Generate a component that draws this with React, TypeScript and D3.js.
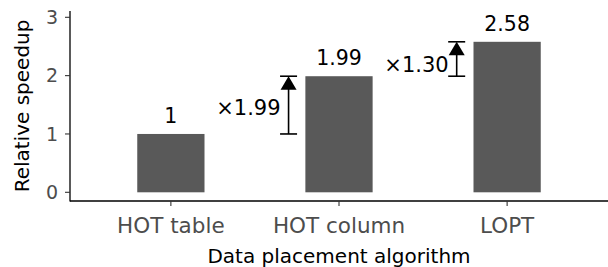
import React, { useEffect, useRef } from 'react';
import * as d3 from 'd3';

const categories = ['HOT table', 'HOT column', 'LOPT'];
const speedups = [1, 1.99, 2.58];
const barLabels = ['1', '1.99', '2.58'];
const yTicks = [0, 1, 2, 3];

// speedup arrows between neighbouring bars
const arrowFrom = [1, 1.99];
const arrowTo = [1.99, 2.58];
const arrowAt = ['HOT column', 'LOPT'];
const arrowLabels = ['×1.99', '×1.30'];
const arrowLabelY = [1.46, 2.19];

const W = 608;
const H = 267;
const FONT = '"DejaVu Sans", sans-serif';

export default function App() {
  const ref = useRef<SVGSVGElement>(null);

  useEffect(() => {
    const svg = d3.select(ref.current);
    svg.selectAll('*').remove();

    const left = 70;
    const right = 608;
    const x = d3.scaleBand().domain(categories).range([left, right]).paddingInner(0.6).paddingOuter(0.4);
    const y = d3.scaleLinear().domain([0, 3]).range([192.3, 17.3]);
    const yBottom = 201;
    const yTop = y(3.11);

    const bw = x.bandwidth();
    const step = x.step();
    const cx = (c: string) => (x(c) as number) + bw / 2;

    // bars
    svg.selectAll('.bar')
      .data(speedups)
      .enter()
      .append('rect')
      .attr('class', 'bar')
      .attr('x', (d, i) => x(categories[i]) as number)
      .attr('y', (d) => y(d))
      .attr('width', bw)
      .attr('height', (d) => y(0) - y(d))
      .attr('fill', '#595959');

    // bar labels
    svg.selectAll('.blabel')
      .data(speedups)
      .enter()
      .append('text')
      .attr('x', (d, i) => cx(categories[i]))
      .attr('y', (d) => y(d) - 11)
      .attr('text-anchor', 'middle')
      .attr('font-family', FONT)
      .attr('font-size', 20.5)
      .attr('fill', '#000')
      .text((d, i) => barLabels[i]);

    // arrows
    arrowFrom.forEach((from, i) => {
      const ax = cx(arrowAt[i]) - 0.3 * step;
      const y0 = y(from);
      const y1 = y(arrowTo[i]);
      const g = svg.append('g');
      g.append('line').attr('x1', ax).attr('x2', ax).attr('y1', y0).attr('y2', y1 + 8)
        .attr('stroke', '#000').attr('stroke-width', 1.6);
      g.append('line').attr('x1', ax - 8.5).attr('x2', ax + 8.5).attr('y1', y0).attr('y2', y0)
        .attr('stroke', '#000').attr('stroke-width', 1.6);
      g.append('line').attr('x1', ax - 8.5).attr('x2', ax + 8.5).attr('y1', y1).attr('y2', y1)
        .attr('stroke', '#000').attr('stroke-width', 1.6);
      g.append('path')
        .attr('d', `M${ax},${y1}L${ax + 8},${y1 + 13.5}L${ax - 8},${y1 + 13.5}Z`)
        .attr('fill', '#000');
      g.append('text')
        .attr('x', ax - 8)
        .attr('y', y(arrowLabelY[i]))
        .attr('dy', '0.37em')
        .attr('text-anchor', 'end')
        .attr('font-family', FONT)
        .attr('font-size', 21)
        .attr('fill', '#000')
        .text(arrowLabels[i]);
    });

    // y axis
    svg.append('line').attr('x1', left).attr('x2', left).attr('y1', yTop).attr('y2', yBottom + 0.6)
      .attr('stroke', '#000').attr('stroke-width', 1.3);
    const yt = svg.selectAll('.ytick').data(yTicks).enter().append('g');
    yt.append('line').attr('x1', left - 5).attr('x2', left).attr('y1', (d) => y(d)).attr('y2', (d) => y(d))
      .attr('stroke', '#333').attr('stroke-width', 1.1);
    yt.append('text')
      .attr('x', left - 12)
      .attr('y', (d) => y(d))
      .attr('dy', '0.36em')
      .attr('text-anchor', 'end')
      .attr('font-family', FONT)
      .attr('font-size', 19)
      .attr('fill', '#4d4d4d')
      .text((d) => String(d));

    // x axis
    svg.append('line').attr('x1', left).attr('x2', right).attr('y1', yBottom).attr('y2', yBottom)
      .attr('stroke', '#000').attr('stroke-width', 1.3);
    const xt = svg.selectAll('.xtick').data(categories).enter().append('g');
    xt.append('line').attr('x1', (d) => cx(d)).attr('x2', (d) => cx(d)).attr('y1', yBottom).attr('y2', yBottom + 5)
      .attr('stroke', '#333').attr('stroke-width', 1.1);
    xt.append('text')
      .attr('x', (d) => cx(d))
      .attr('y', 232.7)
      .attr('text-anchor', 'middle')
      .attr('font-family', FONT)
      .attr('font-size', 21.5)
      .attr('fill', '#4d4d4d')
      .text((d) => d);

    // titles
    svg.append('text')
      .attr('x', 339)
      .attr('y', 262.5)
      .attr('text-anchor', 'middle')
      .attr('font-family', FONT)
      .attr('font-size', 20)
      .attr('fill', '#000')
      .text('Data placement algorithm');
    svg.append('text')
      .attr('transform', `translate(29.3,${(yTop + yBottom) / 2}) rotate(-90)`)
      .attr('text-anchor', 'middle')
      .attr('font-family', FONT)
      .attr('font-size', 20)
      .attr('fill', '#000')
      .text('Relative speedup');
  }, []);

  return (
    <div style={{ position: 'fixed', left: 0, top: 0 }}>
      <svg ref={ref} width={W} height={H} style={{ display: 'block', background: '#fff' }} />
    </div>
  );
}
